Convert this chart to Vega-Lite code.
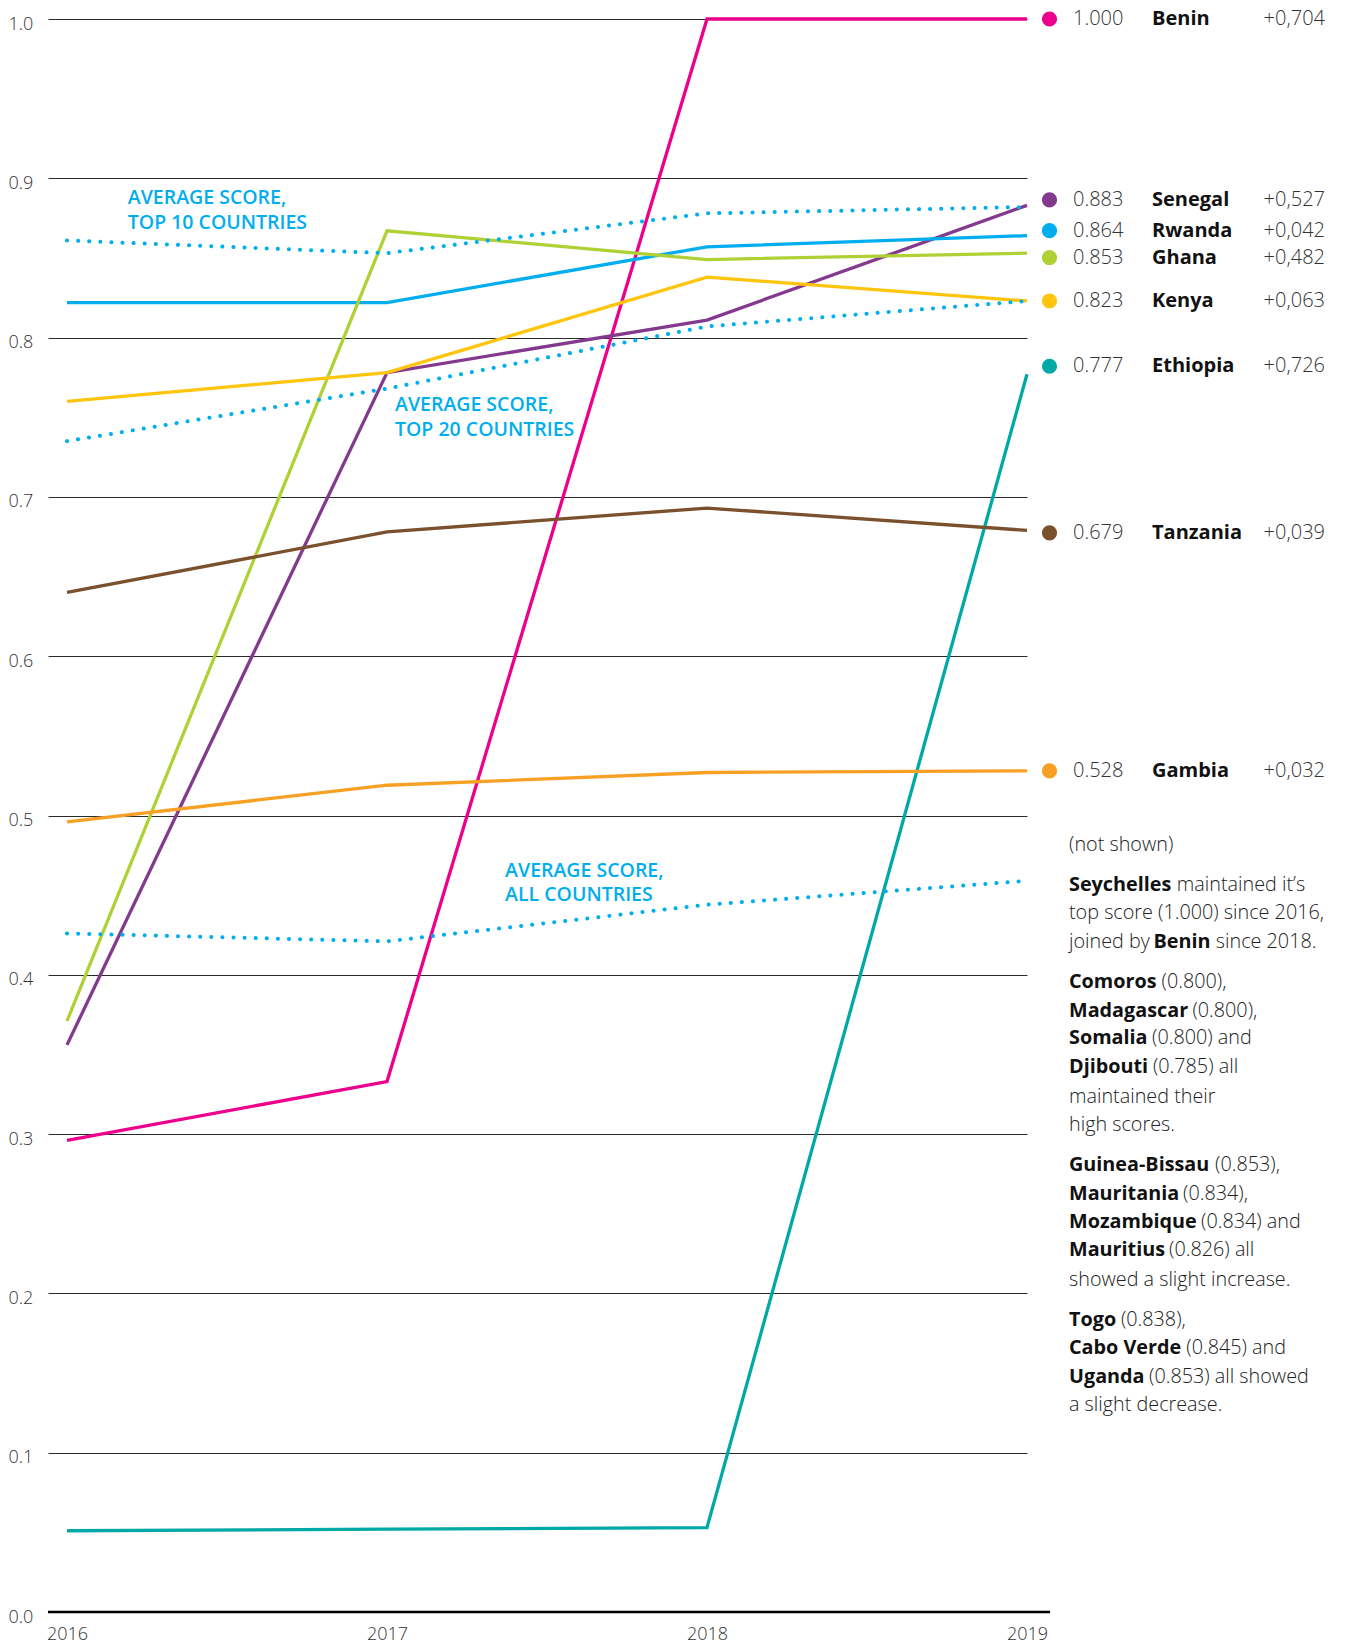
{
  "$schema": "https://vega.github.io/schema/vega-lite/v6.json",
  "width": 979,
  "height": 1593,
  "autosize": {"type": "none"},
  "padding": {"left": 48, "top": 19, "right": 318, "bottom": 34},
  "background": "white",
  "config": {
    "view": {"stroke": null},
    "font": "Open Sans",
    "text": {"font": "Open Sans"},
    "axis": {"labelFont": "Open Sans", "titleFont": "Open Sans"}
  },
  "datasets": {
    "series": [
      {"country": "Benin", "year": 2016, "score": 0.296},
      {"country": "Benin", "year": 2017, "score": 0.333},
      {"country": "Benin", "year": 2018, "score": 1.0},
      {"country": "Benin", "year": 2019, "score": 1.0},
      {"country": "Senegal", "year": 2016, "score": 0.356},
      {"country": "Senegal", "year": 2017, "score": 0.778},
      {"country": "Senegal", "year": 2018, "score": 0.811},
      {"country": "Senegal", "year": 2019, "score": 0.883},
      {"country": "Rwanda", "year": 2016, "score": 0.822},
      {"country": "Rwanda", "year": 2017, "score": 0.822},
      {"country": "Rwanda", "year": 2018, "score": 0.857},
      {"country": "Rwanda", "year": 2019, "score": 0.864},
      {"country": "Ghana", "year": 2016, "score": 0.371},
      {"country": "Ghana", "year": 2017, "score": 0.867},
      {"country": "Ghana", "year": 2018, "score": 0.849},
      {"country": "Ghana", "year": 2019, "score": 0.853},
      {"country": "Kenya", "year": 2016, "score": 0.76},
      {"country": "Kenya", "year": 2017, "score": 0.778},
      {"country": "Kenya", "year": 2018, "score": 0.838},
      {"country": "Kenya", "year": 2019, "score": 0.823},
      {"country": "Ethiopia", "year": 2016, "score": 0.051},
      {"country": "Ethiopia", "year": 2017, "score": 0.052},
      {"country": "Ethiopia", "year": 2018, "score": 0.053},
      {"country": "Ethiopia", "year": 2019, "score": 0.777},
      {"country": "Tanzania", "year": 2016, "score": 0.64},
      {"country": "Tanzania", "year": 2017, "score": 0.678},
      {"country": "Tanzania", "year": 2018, "score": 0.693},
      {"country": "Tanzania", "year": 2019, "score": 0.679},
      {"country": "Gambia", "year": 2016, "score": 0.496},
      {"country": "Gambia", "year": 2017, "score": 0.519},
      {"country": "Gambia", "year": 2018, "score": 0.527},
      {"country": "Gambia", "year": 2019, "score": 0.528}
    ],
    "avg": [
      {"series": "Top 10", "year": 2016, "score": 0.861},
      {"series": "Top 10", "year": 2017, "score": 0.853},
      {"series": "Top 10", "year": 2018, "score": 0.878},
      {"series": "Top 10", "year": 2019, "score": 0.882},
      {"series": "Top 20", "year": 2016, "score": 0.735},
      {"series": "Top 20", "year": 2017, "score": 0.768},
      {"series": "Top 20", "year": 2018, "score": 0.807},
      {"series": "Top 20", "year": 2019, "score": 0.823},
      {"series": "All", "year": 2016, "score": 0.426},
      {"series": "All", "year": 2017, "score": 0.421},
      {"series": "All", "year": 2018, "score": 0.444},
      {"series": "All", "year": 2019, "score": 0.459}
    ],
    "labels": [
      {"country": "Benin", "score": 1.0, "change": "+0,704"},
      {"country": "Senegal", "score": 0.883, "change": "+0,527"},
      {"country": "Rwanda", "score": 0.864, "change": "+0,042"},
      {"country": "Ghana", "score": 0.853, "change": "+0,482"},
      {"country": "Kenya", "score": 0.823, "change": "+0,063"},
      {"country": "Ethiopia", "score": 0.777, "change": "+0,726"},
      {"country": "Tanzania", "score": 0.679, "change": "+0,039"},
      {"country": "Gambia", "score": 0.528, "change": "+0,032"}
    ],
    "notes": [
      {"text": "AVERAGE SCORE,", "year": 2016.19, "score": 0.8876},
      {"text": "TOP 10 COUNTRIES", "year": 2016.19, "score": 0.8719},
      {"text": "AVERAGE SCORE,", "year": 2017.025, "score": 0.7578},
      {"text": "TOP 20 COUNTRIES", "year": 2017.025, "score": 0.7421},
      {"text": "AVERAGE SCORE,", "year": 2017.369, "score": 0.4651},
      {"text": "ALL COUNTRIES", "year": 2017.369, "score": 0.45}
    ],
    "para": [
      {"pre": "(not shown)", "bold": "", "post": "", "anchor": 0.4814},
      {"pre": "", "bold": "Seychelles", "post": "maintained it’s", "anchor": 0.4563},
      {"pre": "top score (1.000) since 2016,", "bold": "", "post": "", "anchor": 0.4388},
      {"pre": "joined by ", "bold": "Benin", "post": "since 2018.", "anchor": 0.4206},
      {"pre": "", "bold": "Comoros", "post": "(0.800),", "anchor": 0.3955},
      {"pre": "", "bold": "Madagascar", "post": "(0.800),", "anchor": 0.3773},
      {"pre": "", "bold": "Somalia", "post": "(0.800) and", "anchor": 0.3603},
      {"pre": "", "bold": "Djibouti", "post": "(0.785) all", "anchor": 0.3421},
      {"pre": "maintained their", "bold": "", "post": "", "anchor": 0.3233},
      {"pre": "high scores.", "bold": "", "post": "", "anchor": 0.3057},
      {"pre": "", "bold": "Guinea-Bissau", "post": "(0.853),", "anchor": 0.2806},
      {"pre": "", "bold": "Mauritania", "post": "(0.834),", "anchor": 0.2624},
      {"pre": "", "bold": "Mozambique", "post": "(0.834) and", "anchor": 0.2448},
      {"pre": "", "bold": "Mauritius", "post": "(0.826) all", "anchor": 0.2272},
      {"pre": "showed a slight increase.", "bold": "", "post": "", "anchor": 0.2084},
      {"pre": "", "bold": "Togo", "post": "(0.838),", "anchor": 0.1833},
      {"pre": "", "bold": "Cabo Verde", "post": "(0.845) and", "anchor": 0.1657},
      {"pre": "", "bold": "Uganda", "post": "(0.853) all showed", "anchor": 0.1475},
      {"pre": "a slight decrease.", "bold": "", "post": "", "anchor": 0.1299}
    ]
  },
  "layer": [
    {
      "data": {"name": "series"},
      "mark": {"type": "line", "strokeWidth": 3.3, "clip": false},
      "encoding": {
        "x": {"field": "year", "type": "quantitative", "scale": {"domain": [2015.9406, 2019], "nice": false, "zero": false},
          "axis": {"values": [2016, 2017, 2018, 2019], "format": "d", "title": null, "grid": false, "domain": false, "ticks": false, "tickSize": 0, "labelPadding": 13, "labelFontSize": 18, "labelFontWeight": 300, "labelColor": "#333", "labelFlush": false}},
        "y": {"field": "score", "type": "quantitative", "scale": {"domain": [0, 1], "nice": false, "zero": true},
          "axis": {"values": [0, 0.1, 0.2, 0.3, 0.4, 0.5, 0.6, 0.7, 0.8, 0.9, 1.0], "format": ".1f", "title": null, "grid": true, "gridColor": "#2a2a2a", "gridWidth": 1, "gridOpacity": 1, "domain": false, "ticks": false, "tickSize": 0, "labelAlign": "left", "labelPadding": 40, "labelBaseline": "middle", "labelOffset": 5, "labelFontSize": 18, "labelFontWeight": 300, "labelColor": "#333"}},
        "color": {"field": "country", "type": "nominal", "legend": null,
          "scale": {"domain": ["Tanzania", "Gambia", "Kenya", "Rwanda", "Ghana", "Senegal", "Ethiopia", "Benin"],
                    "range": ["#7A502D", "#F7A023", "#FFC40C", "#00AEEF", "#AFD136", "#833A8E", "#00A9A5", "#EC008C"]}},
        "order": {"field": "year", "type": "quantitative"}
      }
    },
    {
      "data": {"values": [{}]},
      "mark": {"type": "rule", "color": "#000", "strokeWidth": 2.5, "clip": false},
      "encoding": {
        "x": {"datum": 2015.9406, "type": "quantitative", "scale": {"domain": [2015.9406, 2019], "nice": false, "zero": false}},
        "x2": {"datum": 2019.072},
        "y": {"datum": 0, "type": "quantitative", "scale": {"domain": [0, 1], "nice": false, "zero": true}}
      }
    },
    {
      "data": {"name": "avg"},
      "mark": {"type": "line", "strokeWidth": 4, "strokeDash": [0.1, 11], "strokeCap": "round", "color": "#00AEEF", "clip": false},
      "encoding": {
        "x": {"field": "year", "type": "quantitative", "scale": {"domain": [2015.9406, 2019], "nice": false, "zero": false}},
        "y": {"field": "score", "type": "quantitative", "scale": {"domain": [0, 1], "nice": false, "zero": true}},
        "detail": {"field": "series", "type": "nominal"},
        "order": {"field": "year", "type": "quantitative"}
      }
    },
    {
      "data": {"name": "notes"},
      "mark": {"type": "text", "align": "left", "baseline": "middle", "fontSize": 19.5, "fontWeight": 600, "color": "#00AEEF"},
      "encoding": {
        "x": {"field": "year", "type": "quantitative", "scale": {"domain": [2015.9406, 2019], "nice": false, "zero": false}},
        "y": {"field": "score", "type": "quantitative", "scale": {"domain": [0, 1], "nice": false, "zero": true}},
        "text": {"field": "text"}
      }
    },
    {
      "data": {"name": "labels"},
      "mark": {"type": "point", "shape": "circle", "filled": true, "opacity": 1, "size": 230, "xOffset": 22.5,
        "yOffset": {"expr": "datum.country === 'Senegal' ? -5.5 : datum.country === 'Rwanda' ? -5 : datum.country === 'Ghana' ? 4.5 : datum.country === 'Ethiopia' ? -8 : datum.country === 'Tanzania' ? 2.5 : 0"}},
      "encoding": {
        "x": {"datum": 2019, "type": "quantitative", "scale": {"domain": [2015.9406, 2019], "nice": false, "zero": false}},
        "y": {"field": "score", "type": "quantitative", "scale": {"domain": [0, 1], "nice": false, "zero": true}},
        "color": {"field": "country", "type": "nominal", "legend": null}
      }
    },
    {
      "data": {"name": "labels"},
      "mark": {"type": "text", "align": "left", "baseline": "middle", "fontSize": 20, "fontWeight": 300, "color": "#333", "dx": 46,
        "dy": {"expr": "datum.country === 'Senegal' ? -5.5 : datum.country === 'Rwanda' ? -5 : datum.country === 'Ghana' ? 4.5 : datum.country === 'Ethiopia' ? -8 : datum.country === 'Tanzania' ? 2.5 : 0"}},
      "encoding": {
        "x": {"datum": 2019, "type": "quantitative", "scale": {"domain": [2015.9406, 2019], "nice": false, "zero": false}},
        "y": {"field": "score", "type": "quantitative", "scale": {"domain": [0, 1], "nice": false, "zero": true}},
        "text": {"field": "score", "type": "quantitative", "format": ".3f"}
      }
    },
    {
      "data": {"name": "labels"},
      "mark": {"type": "text", "align": "left", "baseline": "middle", "fontSize": 20, "fontWeight": "bold", "color": "#111", "dx": 125,
        "dy": {"expr": "datum.country === 'Senegal' ? -5.5 : datum.country === 'Rwanda' ? -5 : datum.country === 'Ghana' ? 4.5 : datum.country === 'Ethiopia' ? -8 : datum.country === 'Tanzania' ? 2.5 : 0"}},
      "encoding": {
        "x": {"datum": 2019, "type": "quantitative", "scale": {"domain": [2015.9406, 2019], "nice": false, "zero": false}},
        "y": {"field": "score", "type": "quantitative", "scale": {"domain": [0, 1], "nice": false, "zero": true}},
        "text": {"field": "country"}
      }
    },
    {
      "data": {"name": "labels"},
      "mark": {"type": "text", "align": "right", "baseline": "middle", "fontSize": 20, "fontWeight": 300, "color": "#333", "dx": 298,
        "dy": {"expr": "datum.country === 'Senegal' ? -5.5 : datum.country === 'Rwanda' ? -5 : datum.country === 'Ghana' ? 4.5 : datum.country === 'Ethiopia' ? -8 : datum.country === 'Tanzania' ? 2.5 : 0"}},
      "encoding": {
        "x": {"datum": 2019, "type": "quantitative", "scale": {"domain": [2015.9406, 2019], "nice": false, "zero": false}},
        "y": {"field": "score", "type": "quantitative", "scale": {"domain": [0, 1], "nice": false, "zero": true}},
        "text": {"field": "change"}
      }
    },
    {
      "data": {"name": "para"},
      "mark": {"type": "text", "align": "left", "baseline": "middle", "fontSize": 19.8, "fontWeight": 300, "color": "#222", "dx": 42},
      "encoding": {
        "x": {"datum": 2019, "type": "quantitative", "scale": {"domain": [2015.9406, 2019], "nice": false, "zero": false}},
        "y": {"field": "anchor", "type": "quantitative", "scale": {"domain": [0, 1], "nice": false, "zero": true}},
        "text": {"field": "pre"}
      }
    },
    {
      "data": {"name": "para"},
      "mark": {"type": "text", "align": "left", "baseline": "middle", "fontSize": 19.8, "fontWeight": "bold", "color": "#111",
        "dx": {"expr": "42 + (datum.pre === 'joined by ' ? 84.5 : 0)"}},
      "encoding": {
        "x": {"datum": 2019, "type": "quantitative", "scale": {"domain": [2015.9406, 2019], "nice": false, "zero": false}},
        "y": {"field": "anchor", "type": "quantitative", "scale": {"domain": [0, 1], "nice": false, "zero": true}},
        "text": {"field": "bold"}
      }
    },
    {
      "data": {"name": "para"},
      "mark": {"type": "text", "align": "left", "baseline": "middle", "fontSize": 19.8, "fontWeight": 300, "color": "#222",
        "dx": {"expr": "42 + (datum.pre === 'joined by ' ? 84.5 : 0) + [0,102.8,57.3,87.6,118.4,78,78.9,141,109,127,95.1,46.9,112.3,75][indexof(['','Seychelles','Benin','Comoros','Madagascar','Somalia','Djibouti','Guinea-Bissau','Mauritania','Mozambique','Mauritius','Togo','Cabo Verde','Uganda'], datum.bold)] + 5"}},
      "encoding": {
        "x": {"datum": 2019, "type": "quantitative", "scale": {"domain": [2015.9406, 2019], "nice": false, "zero": false}},
        "y": {"field": "anchor", "type": "quantitative", "scale": {"domain": [0, 1], "nice": false, "zero": true}},
        "text": {"field": "post"}
      }
    }
  ]
}
